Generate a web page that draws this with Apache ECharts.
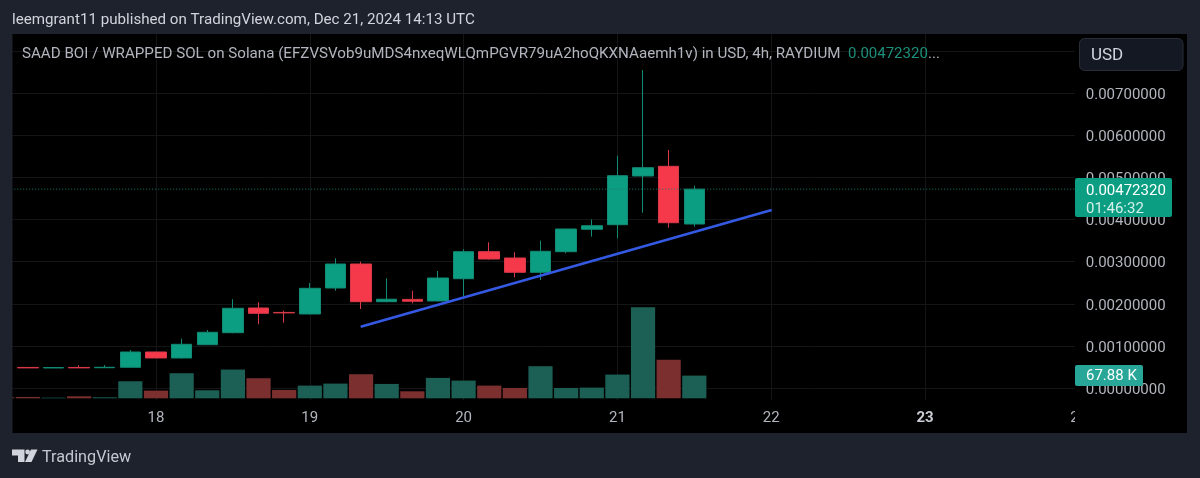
<!DOCTYPE html>
<html>
<head>
<meta charset="utf-8">
<style>
  html, body { margin: 0; padding: 0; background: #1e222d; }
  #chart { width: 1200px; height: 478px; }
</style>
<script src="https://cdn.jsdelivr.net/npm/echarts@6/dist/echarts.min.js"></script>
</head>
<body>
<div id="chart"></div>
<script>
// Four-hour candles, x position given as day of December 2024
const candleDays = [17.1667, 17.3333, 17.5, 17.6667, 17.8333, 18, 18.1667, 18.3333, 18.5, 18.6667, 18.8333, 19, 19.1667, 19.3333, 19.5, 19.6667, 19.8333, 20, 20.1667, 20.3333, 20.5, 20.6667, 20.8333, 21, 21.1667, 21.3333, 21.5];
const opens  = [0.000488, 0.000476, 0.000488, 0.000482, 0.000492, 0.000855, 0.000713, 0.001029, 0.001314, 0.00190, 0.001795, 0.001758, 0.002375, 0.002945, 0.00205, 0.002105, 0.002067, 0.002596, 0.003238, 0.003088, 0.002748, 0.003238, 0.00377, 0.003879, 0.005036, 0.005266, 0.003895];
const closes = [0.000478, 0.000486, 0.000478, 0.000492, 0.000855, 0.000713, 0.001038, 0.001323, 0.001893, 0.001774, 0.001784, 0.002368, 0.002945, 0.00205, 0.002109, 0.00206, 0.002613, 0.003238, 0.003064, 0.002748, 0.003247, 0.003777, 0.003855, 0.005043, 0.005233, 0.003926, 0.0047232];
const lows   = [0.000478, 0.000476, 0.000478, 0.000482, 0.00049, 0.000713, 0.0007, 0.00102, 0.0013, 0.001513, 0.001551, 0.00175, 0.002311, 0.001876, 0.00204, 0.002012, 0.00206, 0.002185, 0.00305, 0.002629, 0.002565, 0.0032, 0.003594, 0.003556, 0.004164, 0.003808, 0.003831];
const highs  = [0.000495, 0.00049, 0.00054, 0.000545, 0.000903, 0.00086, 0.001171, 0.001378, 0.002107, 0.002036, 0.001836, 0.002494, 0.003081, 0.003, 0.002606, 0.002311, 0.002779, 0.003295, 0.003461, 0.003223, 0.003499, 0.00378, 0.004002, 0.005518, 0.007553, 0.005653, 0.004805];

// Volume in thousands of USD, one more bar than candles at the left edge
const volumeDays = [17, 17.1667, 17.3333, 17.5, 17.6667, 17.8333, 18, 18.1667, 18.3333, 18.5, 18.6667, 18.8333, 19, 19.1667, 19.3333, 19.5, 19.6667, 19.8333, 20, 20.1667, 20.3333, 20.5, 20.6667, 20.8333, 21, 21.1667, 21.3333, 21.5];
const volumes = [3, 4, 2, 6, 3, 51, 23, 75, 24, 86, 60, 25, 38, 44, 72, 43, 21, 61, 53, 38, 31, 96, 31, 32, 71, 272, 115, 67.88];
const volumeRising = [0, 0, 1, 0, 1, 1, 0, 1, 1, 1, 0, 0, 1, 1, 0, 1, 0, 1, 1, 0, 0, 1, 1, 1, 1, 1, 0, 1];

// Rising support line and last traded price
const trendDays = [19.331, 22.003];
const trendPrices = [0.001456, 0.004228];
const lastPrice = 0.0047232;
const lastPriceDays = [17, 24];

const priceTickMin = -0.002, priceTickMax = 0.009, priceStep = 0.001;
const dayMin = 17, dayMax = 24;

const titleText = 'leemgrant11 published on TradingView.com, Dec 21, 2024 14:13 UTC';
const legendText = 'SAAD BOI / WRAPPED SOL on Solana (EFZVSVob9uMDS4nxeqWLQmPGVR79uA2hoQKXNAaemh1v) in USD, 4h, RAYDIUM';
const legendPrice = '0.00472320';
const countdown = '01:46:32';
const volumeTag = '67.88 K';

const UP = '#0b9e83', DOWN = '#f5384a', PAGE = '#1e222d', GRIDLINE = '#141517';
const FONT = 'Roboto, sans-serif';

const chart = echarts.init(document.getElementById('chart'), null, { renderer: 'canvas' });

const gridBox = { left: 2.2, width: 1076.6 };

function rect(x, y, width, height, fill, z, r) {
  return { type: 'rect', z, silent: true, shape: { x, y, width, height, r: r || 0 }, style: { fill } };
}
function label(text, x, y, fill, font, z) {
  return { type: 'text', z, silent: true, style: { text, x, y, fill, font, verticalAlign: 'middle' } };
}

chart.setOption({
  animation: false,
  backgroundColor: '#000000',
  grid: [
    { ...gridBox, top: 9.1, height: 463.1 },
    { ...gridBox, top: 298.3, height: 100 },
    // Carries the price-scale text, which sits a little under its gridline
    { ...gridBox, top: 11.1, height: 463.1 }
  ],
  xAxis: [
    { type: 'value', gridIndex: 0, min: dayMin, max: dayMax, interval: 1, z: 1,
      axisLine: { show: false }, axisTick: { show: false }, axisLabel: { show: false },
      splitLine: { show: true, lineStyle: { color: GRIDLINE, width: 1 } } },
    { type: 'value', gridIndex: 1, min: dayMin, max: dayMax, interval: 1, z: 3,
      axisLine: { show: false }, axisTick: { show: false }, splitLine: { show: false },
      axisLabel: {
        show: true, margin: 12, showMinLabel: false, showMaxLabel: true,
        color: '#b2b5be', fontFamily: 'Roboto', fontSize: 15,
        formatter: v => v === 23 ? '{b|23}' : String(v),
        rich: { b: { fontWeight: 'bold', color: '#c9ccd4', fontFamily: 'Roboto', fontSize: 15 } }
      } },
    { type: 'value', gridIndex: 2, min: dayMin, max: dayMax, interval: 1, show: false }
  ],
  yAxis: [
    { type: 'value', gridIndex: 0, min: priceTickMin, max: priceTickMax, interval: priceStep, z: 0,
      axisLine: { show: false }, axisTick: { show: false }, axisLabel: { show: false },
      splitLine: { show: true, lineStyle: { color: GRIDLINE, width: 1 } } },
    { type: 'value', gridIndex: 2, position: 'right', min: priceTickMin, max: priceTickMax, interval: priceStep, z: 5,
      axisLine: { show: false }, axisTick: { show: false }, splitLine: { show: false },
      axisLabel: {
        show: true, margin: 7, color: '#b2b5be', fontFamily: 'Roboto', fontSize: 15,
        formatter: v => (v < -1e-9 || v > 0.0071) ? '' : v.toFixed(8)
      } },
    { type: 'value', gridIndex: 1, min: 0, max: 299, show: false, splitLine: { show: false } }
  ],
  series: [
    {
      type: 'bar', name: 'Volume', xAxisIndex: 1, yAxisIndex: 2, z: 2, barWidth: 24.2,
      data: volumes.map((v, i) => ({
        value: [volumeDays[i], v],
        itemStyle: { color: volumeRising[i] ? '#1c5f54' : '#7b2f2f' }
      }))
    },
    {
      type: 'candlestick', name: 'Price', xAxisIndex: 0, yAxisIndex: 0, z: 2, barWidth: 21,
      encode: { x: 0, y: [1, 2, 3, 4] },
      itemStyle: { color: UP, color0: DOWN, borderColor: '#138a74', borderColor0: '#d93a48', borderWidth: 1 },
      data: candleDays.map((d, i) => [d, opens[i], closes[i], lows[i], highs[i]])
    },
    {
      type: 'line', name: 'Last price', xAxisIndex: 0, yAxisIndex: 0, z: 3, symbol: 'none', silent: true,
      lineStyle: { color: '#1f7d6b', width: 1, type: [1, 2] },
      data: lastPriceDays.map(d => [d, lastPrice])
    },
    {
      type: 'line', name: 'Trend', xAxisIndex: 0, yAxisIndex: 0, z: 3, symbol: 'none', silent: true,
      lineStyle: { color: '#3459e2', width: 2.5 },
      data: trendDays.map((d, i) => [d, trendPrices[i]])
    }
  ],
  graphic: { elements: [
    // Time-scale strip below the plot and price-scale column to its right
    rect(12, 400, 1063, 33, '#000000', 2),
    rect(1075, 34, 112, 399, '#000000', 4),
    // Page margin around the chart panel
    rect(0, 0, 1200, 34, PAGE, 7),
    rect(0, 433, 1200, 45, PAGE, 7),
    rect(0, 0, 12.5, 478, PAGE, 7),
    rect(1187, 0, 13, 478, PAGE, 7),
    label(titleText, 12, 20, '#d1d4dc', '15.15px ' + FONT, 8),
    label(legendText, 22, 54, '#b2b5be', '15.15px ' + FONT, 8),
    label(legendPrice, 848, 54, '#1d8f7a', '15px ' + FONT, 8),
    label('...', 928, 54, '#b2b5be', '15px ' + FONT, 8),
    // Currency button
    { type: 'rect', z: 8, silent: true, shape: { x: 1079.5, y: 38.5, width: 103.5, height: 32, r: 5 },
      style: { fill: '#141823', stroke: '#2a2e39', lineWidth: 1 } },
    label('USD', 1091, 56, '#d1d4dc', '17px ' + FONT, 9),
    // Last price and volume tags on the price scale
    rect(1075, 178, 97, 39, '#0b9e83', 8, 2),
    label('0.00472320', 1086, 191.5, '#ffffff', '15px ' + FONT, 9),
    label(countdown, 1086, 209, '#d6f1ea', '15px ' + FONT, 9),
    rect(1075, 365, 68, 21, '#28a798', 8, 2),
    label(volumeTag, 1086, 376.5, '#ffffff', '15px ' + FONT, 9),
    // Brand mark and wordmark in the footer
    { type: 'polygon', z: 8, silent: true,
      shape: { points: [[12, 449.5], [24.5, 449.5], [24.5, 462], [18, 462], [18, 455.5], [12, 455.5]] },
      style: { fill: '#d1d4dc' } },
    { type: 'circle', z: 8, silent: true, shape: { cx: 27.6, cy: 452, r: 2.4 }, style: { fill: '#d1d4dc' } },
    { type: 'polygon', z: 8, silent: true,
      shape: { points: [[31, 449.5], [37.5, 449.5], [31.5, 462], [25, 462]] },
      style: { fill: '#d1d4dc' } },
    label('TradingView', 42, 457.5, '#c5c8d0', '16.2px ' + FONT, 8)
  ] }
});
</script>
</body>
</html>
